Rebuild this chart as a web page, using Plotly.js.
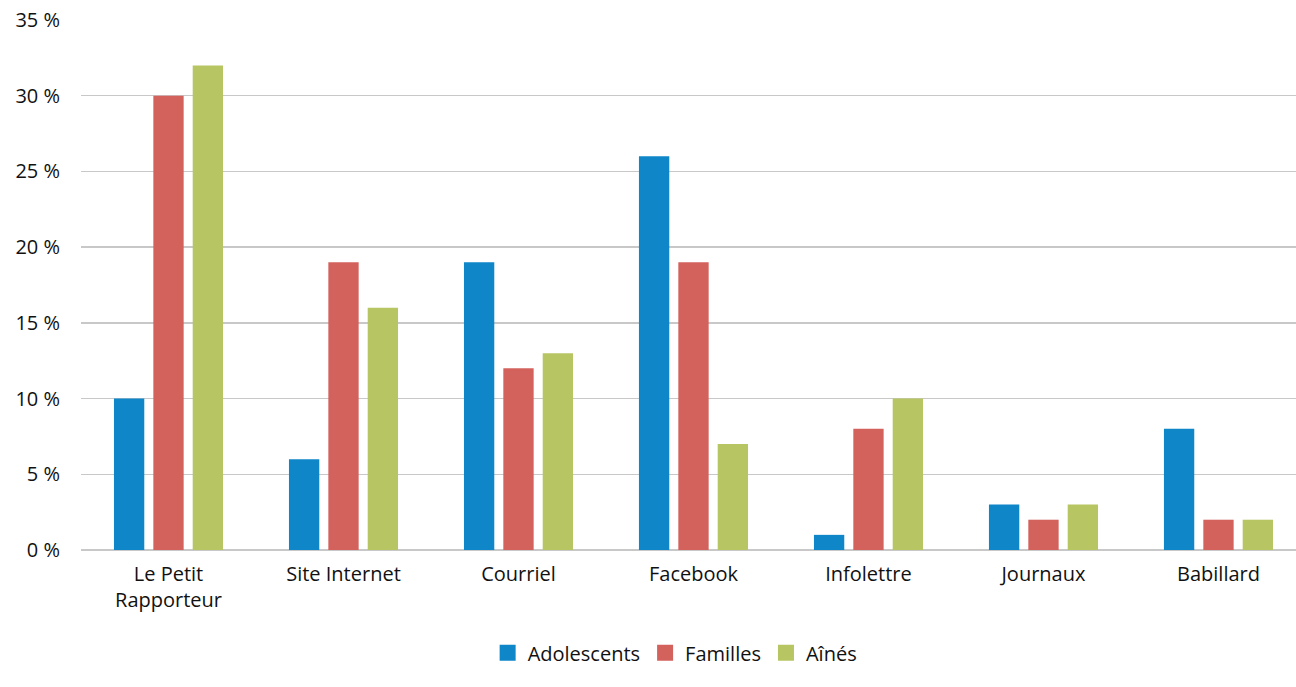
<!DOCTYPE html>
<html>
<head>
<meta charset="utf-8">
<script src="https://cdn.plot.ly/plotly-3.0.1.min.js"></script>
<style>html,body{margin:0;padding:0;background:#fff;}#chart{width:1296px;height:687px;}</style>
</head>
<body>
<div id="chart"></div>
<script>
const categories = ["Le Petit<br>Rapporteur", "Site Internet", "Courriel", "Facebook", "Infolettre", "Journaux", "Babillard"];
const adolescents = [10, 6, 19, 26, 1, 3, 8];
const familles = [30, 19, 12, 19, 8, 2, 2];
const aines = [32, 16, 13, 7, 10, 3, 2];
const seriesNames = ["Adolescents", "Familles", "Aînés"];
const colors = ["#0E86C8", "#D3625C", "#B7C562"];
const tickVals = [0, 5, 10, 15, 20, 25, 30, 35];
const tickText = ["0\u00a0%", "5\u00a0%", "10\u00a0%", "15\u00a0%", "20\u00a0%", "25\u00a0%", "30\u00a0%", "35\u00a0%"];

const font = "'Open Sans', 'Noto Sans', sans-serif";
const bars = [adolescents, familles, aines].map((v, i) => ({
  type: "bar", x: categories, y: v, name: seriesNames[i], showlegend: false,
  marker: {color: colors[i], line: {width: 0}}
}));
const legendItems = seriesNames.map((n, i) => ({
  type: "scatter", mode: "markers", x: [null], y: [null], name: n, showlegend: true,
  marker: {symbol: "square", size: 16, color: colors[i]}
}));
const layout = {
  width: 1296, height: 687,
  margin: {l: 81, r: 0, t: 20, b: 137},
  paper_bgcolor: "#fff", plot_bgcolor: "#fff",
  font: {family: font, size: 20, color: "#111"},
  bargap: 0.325, bargroupgap: 0.23,
  xaxis: {range: [-0.5, 6.443], showgrid: false, zeroline: false, showline: false, ticks: "", tickfont: {size: 20}, ticklabelstandoff: 10},
  yaxis: {range: [0, 35], tickvals: tickVals, ticktext: tickText, showgrid: true, gridcolor: "#c8c8c8", gridwidth: 1.3,
          zeroline: true, zerolinecolor: "#c8c8c8", zerolinewidth: 1.3, showline: false, ticks: "", ticklen: 0, tickfont: {size: 20},
          ticklabelstandoff: 20, automargin: false},
  legend: {orientation: "h", x: 0.489, xanchor: "center", y: -0.194, yanchor: "middle", font: {size: 20}, itemwidth: 30, traceorder: "normal"},
  showlegend: true
};
Plotly.newPlot("chart", bars.concat(legendItems), layout, {displayModeBar: false, staticPlot: true});
</script>
</body>
</html>
